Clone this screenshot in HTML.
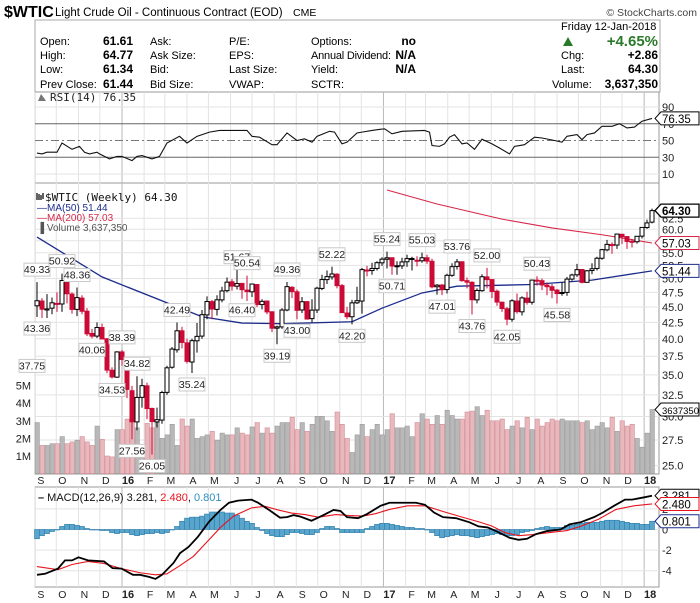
<!DOCTYPE html>
<html><head><meta charset="utf-8"><title>$WTIC Weekly</title>
<style>
html,body{margin:0;padding:0;background:#fff;}
svg{display:block;font-family:"Liberation Sans",sans-serif;}
.mono{font-family:"DejaVu Sans Mono","Liberation Mono",monospace;}
</style></head>
<body>
<svg id="chart" width="700" height="603" viewBox="0 0 700 603" xmlns="http://www.w3.org/2000/svg">
  <g>
    <text x="4" y="17" font-size="16" font-weight="bold">$WTIC</text>
    <text x="55" y="16" font-size="11.5">Light Crude Oil - Continuous Contract (EOD)</text>
    <text x="293" y="16" font-size="10.5">CME</text>
    <text x="697" y="16" font-size="10.5" fill="#444" text-anchor="end">© StockCharts.com</text>
  </g>
  <g font-size="11">
    <rect x="35" y="20" width="625" height="72" fill="#fff" stroke="#aaa"/>
    <text x="40" y="45">Open:</text>
    <text x="40" y="59">High:</text>
    <text x="40" y="73">Low:</text>
    <text x="40" y="88">Prev Close:</text>
    <g font-weight="bold" text-anchor="end" font-size="12">
      <text x="133" y="45">61.61</text>
      <text x="133" y="59">64.77</text>
      <text x="133" y="73">61.34</text>
      <text x="133" y="88">61.44</text>
    </g>
    <text x="150" y="45">Ask:</text>
    <text x="150" y="59">Ask Size:</text>
    <text x="150" y="73">Bid:</text>
    <text x="150" y="88">Bid Size:</text>
    <text x="229" y="45">P/E:</text>
    <text x="229" y="59">EPS:</text>
    <text x="229" y="73">Last Size:</text>
    <text x="229" y="88">VWAP:</text>
    <text x="311" y="45">Options:</text>
    <text x="311" y="59" textLength="80">Annual Dividend:</text>
    <text x="311" y="73">Yield:</text>
    <text x="311" y="88">SCTR:</text>
    <g font-weight="bold" text-anchor="end" font-size="12">
      <text x="416" y="45">no</text>
      <text x="416" y="59">N/A</text>
      <text x="416" y="73">N/A</text>
    </g>
    <text x="561" y="30">Friday  12-Jan-2018</text>
    <path d="M563,46 L568,37 L573,46 Z" fill="#2a7a2a"/>
    <text x="658" y="46" font-size="15" font-weight="bold" fill="#2a7a2a" text-anchor="end">+4.65%</text>
    <text x="561" y="59">Chg:</text>
    <text x="561" y="73">Last:</text>
    <text x="552" y="88">Volume:</text>
    <g font-weight="bold" text-anchor="end" font-size="12">
      <text x="658" y="59">+2.86</text>
      <text x="658" y="73">64.30</text>
      <text x="658" y="88">3,637,350</text>
    </g>
  </g>
  <g id="grid"></g>
  <g id="rsi"></g>
  <g id="main"></g>
  <g id="macd"></g>
  <g id="axes"></g>
</svg>
<script>
// ---------- DATA ----------
const opens  = [45.2,46.0,44.5,44.8,45.6,45.5,49.6,47.2,44.6,46.5,44.3,40.8,40.4,41.7,40.0,35.6,34.7,38.1,37.0,33.0,29.4,32.2,33.6,30.9,29.4,29.6,32.8,36.0,38.4,41.2,39.4,36.7,39.7,40.4,43.7,45.9,44.6,46.2,47.8,49.4,48.6,49.1,47.9,47.6,48.9,45.4,46.0,44.2,41.6,41.8,44.5,48.4,47.6,44.5,45.9,43.1,44.5,48.2,49.8,50.3,50.8,48.7,44.0,43.4,45.7,46.0,51.6,51.5,51.9,53.0,53.7,54.0,52.4,52.4,53.2,53.8,53.5,53.4,54.0,53.3,48.5,48.8,48.0,50.6,52.3,53.2,49.6,49.3,46.2,47.8,50.3,49.8,47.7,45.8,44.7,43.0,46.0,44.2,46.5,45.8,49.7,49.6,48.8,48.5,47.9,47.3,47.5,49.9,50.7,51.7,49.3,51.5,51.9,53.9,55.6,56.7,56.6,58.9,58.4,57.4,57.3,58.5,60.4,61.61];
const highs  = [49.33,46.5,47.2,46.6,47.5,50.92,49.8,47.5,48.36,47.0,44.8,41.5,42.5,42.3,40.1,36.0,38.2,38.39,37.2,33.6,34.82,34.5,34.0,31.0,31.0,33.0,36.2,38.8,42.49,41.8,40.0,40.0,42.4,44.5,46.8,46.2,47.0,48.5,50.2,49.9,51.67,49.2,50.54,49.0,49.0,46.3,46.1,44.3,42.0,44.8,49.36,48.6,48.0,46.7,46.0,46.3,48.5,50.7,51.5,52.22,51.0,49.0,45.0,46.2,48.5,52.0,52.4,53.0,53.3,54.1,55.24,54.0,53.3,54.0,54.6,54.2,54.3,55.03,54.6,53.8,49.0,49.0,50.9,52.9,53.76,53.3,50.2,49.5,48.2,50.8,52.00,49.9,48.0,45.9,45.0,46.3,47.3,46.8,47.6,49.8,50.43,50.0,49.3,49.0,48.1,49.3,50.3,50.9,52.8,51.8,51.6,52.9,54.2,55.8,57.7,57.2,59.05,59.0,58.5,57.9,58.5,60.5,62.2,64.77];
const lows   = [43.36,43.2,43.2,43.8,44.2,44.2,45.6,43.9,43.5,43.8,40.4,40.06,40.1,39.9,35.2,34.53,34.6,36.2,32.1,27.56,28.5,31.0,29.7,26.05,28.8,29.2,32.5,35.8,38.0,38.6,36.5,35.24,38.0,40.0,43.0,43.0,43.6,45.8,47.5,47.8,48.0,46.40,46.0,46.7,45.0,44.6,43.8,41.0,39.19,41.5,44.3,46.5,43.0,44.0,43.0,42.5,44.0,47.9,49.0,49.8,48.2,44.0,43.0,42.20,45.5,43.9,50.4,50.7,51.5,52.4,51.9,50.71,50.7,51.8,52.2,51.5,52.3,53.0,52.8,48.2,47.1,47.01,47.3,50.3,51.7,49.4,48.2,43.76,45.6,47.6,48.2,46.5,45.2,44.2,42.05,42.6,43.9,43.6,45.4,45.4,48.7,47.9,47.0,46.5,45.58,46.9,46.9,49.6,50.3,49.1,49.4,50.8,51.5,53.6,55.3,54.8,55.8,56.8,55.8,56.1,56.9,58.0,60.1,61.34];
const closes = [46.05,44.63,44.68,45.70,45.54,49.63,47.26,44.60,46.59,44.29,40.74,40.39,41.71,39.97,35.62,34.73,38.10,37.04,33.16,29.42,32.19,33.62,30.89,29.44,29.64,32.78,35.92,38.50,41.2,39.46,36.79,39.72,40.36,43.73,45.92,44.66,46.21,47.75,49.33,48.62,49.07,47.98,47.64,48.99,45.41,45.95,44.19,41.60,41.80,44.49,48.52,47.64,44.44,45.88,43.03,44.48,48.24,49.81,50.35,50.85,48.70,44.07,43.41,45.69,46.06,51.68,51.50,51.90,53.02,53.72,53.99,52.37,52.42,53.17,53.83,53.86,53.40,53.99,53.33,48.49,48.78,47.97,50.60,52.24,53.18,49.62,49.33,46.22,47.84,50.33,49.80,47.66,45.83,44.74,43.01,46.04,44.23,46.54,45.77,49.71,49.58,48.82,48.51,47.87,47.29,47.48,49.89,50.66,51.67,49.29,51.45,51.84,53.90,55.64,56.74,56.55,58.95,58.36,57.36,57.30,58.47,60.42,61.44,64.30];
const volumes = [2.9,1.6,1.6,1.7,1.7,2.1,1.7,1.8,1.9,2.1,1.8,1.6,2.7,1.95,1.0,0.95,2.5,2.5,3.1,2.9,2.6,1.3,2.85,2.6,2.9,2.0,2.2,2.8,1.6,3.1,2.7,3.1,2.0,2.1,2.2,2.4,1.9,2.3,2.2,2.2,2.6,2.3,2.2,2.65,2.9,2.3,2.6,2.3,2.7,2.9,2.9,3.2,2.5,2.9,2.4,2.8,3.25,3.25,3.0,2.4,3.5,2.8,2.0,1.2,2.2,2.8,2.1,2.5,2.8,2.2,2.5,3.4,2.6,2.6,2.7,2.1,2.9,3.4,3.1,2.8,3.3,2.8,3.6,3.3,3.1,3.1,3.5,3.55,3.8,3.3,3.6,3.0,3.0,3.1,2.5,2.7,3.0,2.6,3.2,2.5,3.1,2.7,2.9,3.1,3.0,3.1,3.0,3.0,3.0,2.9,3.0,2.5,2.7,2.9,2.6,3.2,2.4,3.0,2.7,2.8,2.0,1.5,2.3,3.64];
const ma50Weeks = [0,13,33,41,49,63,69,77,84,99,111,123];
const ma50Vals  = [58.3,50.3,43.4,42.4,42.3,42.6,44.8,47.4,48.6,48.9,49.7,51.44];
const ma200Weeks = [70,80,93,103,113,123];
const ma200Vals  = [69.4,65.9,62.3,60.3,58.8,57.03];
const rsiWeeks = [0,1,2,4,5,7,8.5,9.5,10.5,12,12.5,14.5,16,17,19,20,21,23,24.5,26,28.5,30,32,34.5,36.5,42,43,44.5,47,48,50,52,53.5,55,56,58.5,59.5,61,62,64,65,67,69.5,71,73,77.5,78.5,79,80.5,81.5,82.5,83.5,85,86,87.5,89,91,92.5,94.5,95.5,96.5,97.5,99.5,101,103.5,105,106,108,109,110,111.5,113,115,116.5,118,119.5,121,123];
const rsiVals  = [35,34,36,36,47,39.5,43,36,34,36,34,28,31,31,26,31,32,28,31,47,55,47,55,60,62,62,55,54,45,45,59,50,52,48,55,61,60,46,48,59,60,62,64,58,61,62,60,44,43,46,54,57,46,47,39.5,51.5,46,41,34,43,44,45,54,53,50,48,55,57,51,57,59,67,67,70,65,66,73,76.35];
const macdWeeks = [0,1.6,4.2,5.6,7,8.3,10.2,13.4,15.1,16.9,19.2,20.6,22.4,23.7,25,27.3,28.6,30.3,32.2,34.4,36.7,38.4,40.2,42.9,44.2,46.4,48.6,50,51.3,52.7,54.9,57.1,59.3,60.7,62,64.2,66,68.7,70.5,75.8,77.6,79.4,81.2,83.8,86.5,88.3,90.1,91.8,94.5,96.3,98,99.8,102,104.7,106.5,108.7,111.4,113.2,115.4,117.6,119,121.2,123];
const macdVals  = [-4.4,-4.3,-3.8,-3.0,-3.0,-2.7,-3.0,-3.1,-3.75,-3.8,-4.4,-4.4,-4.6,-4.8,-4.4,-3.25,-2.3,-1.7,-0.7,0.75,1.9,2.6,2.8,2.9,2.6,1.9,1.15,1.2,1.4,1.25,0.85,1.35,1.9,1.8,1.2,1.1,1.5,2.3,2.6,2.6,2.4,1.65,1.2,1.1,0.7,0.3,0.2,-0.15,-0.8,-1.0,-0.9,-0.45,-0.15,0,0.5,0.7,1.2,1.65,2.3,2.9,2.9,3.1,3.281];
const signalWeeks = [0,4.2,7,10.2,13.4,16.9,20.6,23.7,26,28.6,31.3,34,36.7,39.3,42.9,45.6,48.2,50.9,53.6,56.3,59.8,62.5,65.2,67.8,70.5,74.1,77.6,81.2,84.7,88.3,90.9,93.6,96.3,98.9,102.5,106,108.7,112.3,115.8,119.4,123];
const signalVals  = [-3.6,-3.9,-3.4,-3.1,-3.3,-3.8,-4.2,-4.4,-4.3,-3.5,-2.6,-1.2,0.2,1.3,2.1,2.25,1.9,1.6,1.45,1.2,1.45,1.35,1.3,1.55,1.95,2.3,2.3,1.75,1.25,0.75,0.35,-0.3,-0.6,-0.5,-0.3,-0.1,0.3,1.0,1.95,2.3,2.48];
const histVals = [-0.9,-0.6,-0.4,-0.2,0.0,0.3,0.5,0.5,0.4,0.3,0.1,0.0,0.0,-0.1,-0.1,-0.3,-0.4,-0.3,-0.3,-0.5,-0.6,-0.5,-0.4,-0.4,-0.3,-0.4,-0.3,0.0,0.3,0.8,1.1,1.2,1.2,1.3,1.5,1.7,1.7,1.7,1.6,1.6,1.4,1.1,0.8,0.6,0.2,-0.1,-0.4,-0.6,-0.7,-0.7,-0.5,-0.3,-0.3,-0.4,-0.5,-0.5,-0.3,0.1,0.3,0.3,0.1,-0.3,-0.3,-0.3,-0.3,-0.3,0.1,0.3,0.5,0.6,0.6,0.5,0.4,0.3,0.2,0.2,0.1,0.1,0.0,-0.3,-0.6,-0.8,-0.7,-0.6,-0.5,-0.6,-0.6,-0.7,-0.8,-0.7,-0.6,-0.5,-0.4,-0.5,-0.6,-0.6,-0.5,-0.3,-0.2,-0.1,0.1,0.2,0.3,0.2,0.2,0.2,0.4,0.4,0.5,0.6,0.7,0.7,0.7,0.8,0.9,0.9,0.9,0.8,0.7,0.6,0.6,0.5,0.5,0.801];
const annWeeks = [-1,0,0,5,8,11,17,15,20,19,23,28,31,40,42,41,50,48,52,59,63,70,71,77,84,81,87,90,94,100,104];
const annVals  = [37.75,49.33,43.36,50.92,48.36,40.06,38.39,34.53,34.82,27.56,26.05,42.49,35.24,51.67,50.54,46.40,49.36,39.19,43.00,52.22,42.20,55.24,50.71,55.03,53.76,47.01,43.76,52.00,42.05,50.43,45.58];
const annSide  = ['l','h','l','h','h','l','h','l','h','l','l','h','l','h','h','l','h','l','l','h','l','h','l','h','h','l','l','h','l','h','l'];
const priceTicks = [62.5,60.0,57.5,55.0,52.5,50.0,47.5,45.0,42.5,40.0,37.5,35.0,32.5,30.0,27.5,25.0];
const volTicks = [1,2,3,4,5];
const rsiTicks = [90,70,50,30,10];
const macdTicks = [2,0,-2,-4];
const monthLabels = ['S','O','N','D','16','F','M','A','M','J','J','A','S','O','N','D','17','F','M','A','M','J','J','A','S','O','N','D','18'];

// ---------- SCALES ----------
const NS='http://www.w3.org/2000/svg';
const PL=35, PR=659;
const xW = w => 37 + 5*w;
const yP = p => 229.3 + (Math.log(60) - Math.log(p))*270;
const yV = v => 473.6 - v*17.6;
const yR = v => 174 - (v-10)*0.8375;
const yM = v => 529.5 - v*10.3;
const T0 = Date.UTC(2015,8,4);
function mk(tag, attrs, parent){const e=document.createElementNS(NS,tag);for(const k in attrs)e.setAttribute(k,attrs[k]);parent.appendChild(e);return e;}
const G=document.getElementById('grid'), R=document.getElementById('rsi'), M=document.getElementById('main'), D=document.getElementById('macd'), A=document.getElementById('axes');

let el;
el=mk('rect',{x:PL,y:92,width:PR-PL,height:91,fill:'#fff',stroke:'#999'},G);


el=mk('rect',{x:PL,y:183,width:PR-PL,height:291,fill:'#fff',stroke:'#999'},G);


el=mk('rect',{x:PL,y:487,width:PR-PL,height:100,fill:'#fff',stroke:'#999'},G);



monthLabels.forEach((lab,i)=>{
  const d=Date.UTC(2015,8+i,1);
  const x=37+5*((d-T0)/86400000/7);
  const yr=/\d/.test(lab);
  [[92,183],[183,474],[487,587]].forEach(([a,b])=>{
    const l=mk('line',{x1:x,x2:x,y1:a,y2:b,stroke:yr?'#b8b8b8':'#e3e3e3','stroke-width':1},G);
    
    
  });
  [484,598].forEach(yy=>{
    const t=mk('text',{x:x+6,y:yy,'font-size':yr?11:10.5,'font-weight':yr?'bold':'normal','text-anchor':'middle',fill:'#222'},A);
    t.textContent=lab;
    
    
  });
});

priceTicks.forEach(p=>{
  const y=yP(p);
  const l=mk('line',{x1:PL,x2:PR,y1:y,y2:y,stroke:'#e3e3e3'},G);
  
  
  const t=mk('text',{x:662,y:y+4,'font-size':11,fill:'#222'},A);
  t.textContent=p.toFixed(1);
  
  
});
volTicks.forEach(v=>{
  const t=mk('text',{x:31,y:yV(v)+4,'font-size':11,fill:'#222','text-anchor':'end'},A);
  t.textContent=v+'M';
  
  
});

rsiTicks.forEach(v=>{
  const y=yR(v);
  const major=(v===70||v===30), mid=v===50;
  const l=mk('line',{x1:PL,x2:PR,y1:y,y2:y,stroke:major?'#666':(mid?'#777':'#e3e3e3'),'stroke-dasharray':mid?'8,3,2,3':'none'},R);
  
  
  const t=mk('text',{x:662,y:y+4,'font-size':11,fill:'#222'},A);
  t.textContent=v;
  
  
});
let rp=rsiWeeks.map((w,i)=>xW(w)+','+yR(rsiVals[i])).join(' ');
el=mk('polyline',{points:rp,fill:'none',stroke:'#111','stroke-width':1.1},R);


el=mk('text',{x:50,y:101,'font-size':11,class:'mono',fill:'#222'},R);
el.textContent='RSI(14) 76.35';


el=mk('path',{d:'M38,101 L41,94 L44,98 L46,101 Z',fill:'#777'},R);



volumes.forEach((v,i)=>{
  const down=closes[i]<opens[i];
  const b=mk('rect',{x:xW(i)-2,y:yV(v),width:4.4,height:473.6-yV(v),fill:down?'#e8b8bd':'#b8b8b8',stroke:down?'#d48a95':'#9a9a9a','stroke-width':0.6},M);
  
  
});

el=mk('polyline',{points:ma50Weeks.map((w,i)=>xW(w)+','+yP(ma50Vals[i])).join(' '),fill:'none',stroke:'#1c2c8c','stroke-width':1.3},M);


el=mk('polyline',{points:ma200Weeks.map((w,i)=>xW(w)+','+yP(ma200Vals[i])).join(' '),fill:'none',stroke:'#d6284a','stroke-width':1.1},M);



closes.forEach((c,i)=>{
  const o=opens[i], up=c>=o, x=xW(i), col=up?'#000':'#cc0a36';
  const w=mk('line',{x1:x,x2:x,y1:yP(highs[i]),y2:yP(lows[i]),stroke:col,'stroke-width':1},M);
  
  
  const top=yP(Math.max(o,c)), bot=yP(Math.min(o,c));
  const b=mk('rect',{x:x-2,y:top,width:4,height:Math.max(1,bot-top),fill:up?'#fff':'#cc0a36',stroke:col,'stroke-width':1},M);
  
  
});

annWeeks.forEach((w,i)=>{
  const v=annVals[i], hi=annSide[i]==='h';
  let x=xW(w); if(x<25) x=25;
  const py=hi?yP(highs[Math.max(0,w)]||v):yP(v);
  const by=hi? py-19 : py+5;
  const g=mk('g',{},M);
  
  
  mk('rect',{x:x-13,y:by,width:26,height:13,fill:'#fff',stroke:'#c8c8c8'},g);
  const t=mk('text',{x:x,y:by+10,'font-size':10.5,'text-anchor':'middle',fill:'#222'},g);
  t.textContent=v.toFixed(2);
});

el=mk('text',{x:45,y:201,'font-size':11,class:'mono',fill:'#111'},M);
el.textContent='$WTIC (Weekly) 64.30';


el=mk('path',{d:'M37,200 L37,193 M39,200 L39,194 M41,200 L41,195 M43,199 L43,193',stroke:'#222','stroke-width':1.4},M);


[['—MA(50) 51.44','#1c2c8c',211,'ma50-legend'],['—MA(200) 57.03','#d6284a',221,'ma200-legend'],['Volume 3,637,350','#555',231,'volume-legend']].forEach(([s,c,y,n])=>{
  const t=mk('text',{x:37,y:y,'font-size':10,fill:c},M);
  t.textContent=(n==='volume-legend'?'\u2590 ':'')+s;
  
  
});

macdTicks.forEach(v=>{
  const y=yM(v);
  const l=mk('line',{x1:PL,x2:PR,y1:y,y2:y,stroke:'#e3e3e3'},D);
  
  
  const t=mk('text',{x:662,y:y+4,'font-size':11,fill:'#222'},A);
  t.textContent=v;
  
  
});
histVals.forEach((v,i)=>{
  const y0=yM(0), y1=yM(v);
  const b=mk('rect',{x:xW(i)-2.5,y:Math.min(y0,y1),width:5,height:Math.max(0.5,Math.abs(y1-y0)),fill:'#5aa5cc',stroke:'#2f7fad','stroke-width':0.6},D);
  
  
});
el=mk('polyline',{points:signalWeeks.map((w,i)=>xW(w)+','+yM(signalVals[i])).join(' '),fill:'none',stroke:'#e8141e','stroke-width':1.1},D);


el=mk('polyline',{points:macdWeeks.map((w,i)=>xW(w)+','+yM(macdVals[i])).join(' '),fill:'none',stroke:'#000','stroke-width':1.8},D);


el=mk('text',{x:38,y:501,'font-size':11,fill:'#111'},D);
el.innerHTML='<tspan font-weight="bold">–</tspan> MACD(12,26,9) 3.281, <tspan fill="#e8141e">2.480</tspan>, <tspan fill="#2f8fc0">0.801</tspan>';



[[yP(64.30),'64.30','#000',true,'last-price-tag'],[yP(57.03),'57.03','#d6284a',false,'ma200-tag'],[yP(51.44),'51.44','#1c2c8c',false,'ma50-tag'],[yV(3.64),'3637350','#000',false,'volume-tag'],[yR(76.35),'76.35','#000',false,'rsi-tag'],[yM(3.281),'3.281','#000',false,'macd-tag'],[yM(2.48),'2.480','#e8141e',false,'signal-tag'],[yM(0.801),'0.801','#1c2c8c',false,'histogram-tag']].forEach(([y,s,c,b,n])=>{
  const g=mk('g',{},A);
  
  
  mk('path',{d:`M655,${y} L661,${y-6.5} L699,${y-6.5} L699,${y+6.5} L661,${y+6.5} Z`,fill:'#fff',stroke:c,'stroke-width':b?1.3:1},g);
  const t=mk('text',{x:662,y:y+4.5,'font-size':s.length>5?9.5:11.5,'font-weight':b?'bold':'normal',fill:'#000'},g);
  t.textContent=s;
});
</script>
</body></html>
